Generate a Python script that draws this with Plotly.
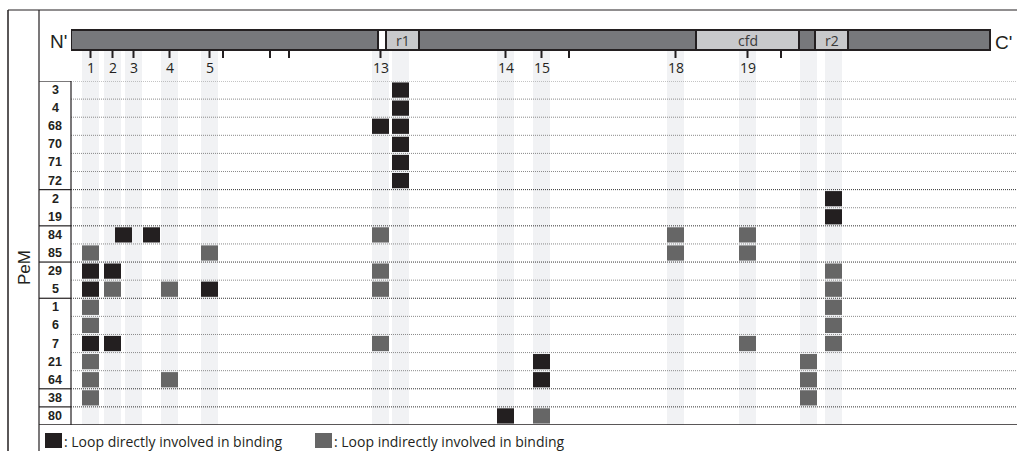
import plotly.graph_objects as go

W, H = 1017, 451

# PeM rows (top to bottom) and their grouping
rows = ["3", "4", "68", "70", "71", "72", "2", "19", "84", "85",
        "29", "5", "1", "6", "7", "21", "64", "38", "80"]
group_sizes = [6, 2, 2, 2, 5, 1, 1]

# Loop positions along the construct (x units from the N-terminus)
loop_names = ["1", "2", "3", "4", "5", "13", "r1", "14", "15", "18", "19", "L", "r2"]
loop_pos = [19.5, 41.5, 62.5, 98.5, 138.5, 309.5, 329.5, 434.5, 470.5, 604.5, 676.5, 737.5, 762.5]
loop_tick_text = ["1", "2", "3", "4", "5", "13", "", "14", "15", "18", "19", "", ""]
minor_tick_pos = [152, 199, 218, 498, 710]
between_pos = {"2-3": 52.5, "3-4": 80.5}

# Construct segments
seg_start = [307, 315, 625, 728, 744]
seg_end = [315, 348, 728, 744, 777]
seg_text = ["", "r1", "cfd", "", "r2"]
seg_fill = ["#ffffff", "#c8c9cb", "#c8c9cb", "#77787b", "#c8c9cb"]
construct_len = 919

# Loops directly involved in binding
direct_rows = ["3", "4", "68", "68", "70", "71", "72", "2", "19", "84", "84",
               "29", "29", "5", "5", "7", "7", "21", "64", "80"]
direct_loops = ["r1", "r1", "13", "r1", "r1", "r1", "r1", "r2", "r2", "2-3", "3-4",
                "1", "2", "1", "5", "1", "2", "15", "15", "14"]

# Loops indirectly involved in binding
indirect_rows = ["84", "84", "84", "85", "85", "85", "85", "29", "29",
                 "5", "5", "5", "5", "1", "1", "6", "6", "7", "7", "7",
                 "21", "21", "64", "64", "64", "38", "38", "80"]
indirect_loops = ["13", "18", "19", "1", "5", "18", "19", "13", "r2",
                  "2", "4", "13", "r2", "1", "r2", "1", "r2", "13", "19", "r2",
                  "1", "L", "1", "4", "L", "1", "L", "15"]

pos_of = dict(zip(loop_names, loop_pos))
pos_of.update(between_pos)

INK = "#231f20"
DIRECT = "#231f20"
INDIRECT = "#666666"
BAND = "#f1f2f4"
BODY = "#77787b"
CELL_W = 17
FONT = "Liberation Sans, Arial, sans-serif"
HFONT = "Open Sans, Noto Sans, sans-serif"


def px(x):
    return x / W


def py(y):
    return 1 - y / H


GRID_TOP, GRID_BOT = 81, 425
BAR_TOP, BAR_BOT = 30, 50

fig = go.Figure()


def cell_trace(row_list, loop_list, color):
    ys = [rows.index(r) for r in row_list]
    centers = [pos_of[l] for l in loop_list]
    return go.Bar(
        y=ys,
        x=[CELL_W] * len(ys),
        base=[c - CELL_W / 2 for c in centers],
        orientation="h",
        width=0.84,
        marker=dict(color=color, line=dict(width=0)),
        hoverinfo="skip",
        showlegend=False,
    )


fig.add_trace(cell_trace(direct_rows, direct_loops, DIRECT))
fig.add_trace(cell_trace(indirect_rows, indirect_loops, INDIRECT))

shapes = []
annotations = []

# light vertical bands under each loop
for p in loop_pos:
    shapes.append(dict(type="rect", xref="x", yref="paper",
                       x0=p - CELL_W / 2, x1=p + CELL_W / 2,
                       y0=py(GRID_BOT), y1=py(BAR_BOT),
                       fillcolor=BAND, line=dict(width=0), layer="below"))

# row separators
boundaries = set()
acc = 0
for g in group_sizes:
    acc += g
    boundaries.add(acc)
for k in range(0, len(rows)):
    yb = k - 0.5
    dark = k in boundaries
    shapes.append(dict(type="line", xref="paper", yref="y",
                       x0=px(71), x1=1, y0=yb, y1=yb,
                       line=dict(color="#333333" if dark else "#8a8a8a",
                                 width=1, dash="1px,1px"),
                       layer="below"))
# solid separators in the label column
for k in [0] + sorted(boundaries):
    yb = k - 0.5
    x1 = 1 if k == len(rows) else px(71)
    shapes.append(dict(type="line", xref="paper", yref="y",
                       x0=px(39), x1=x1, y0=yb, y1=yb,
                       line=dict(color=INK, width=1.5 if k == len(rows) else 1.2)))

# frame lines
shapes += [
    dict(type="line", xref="paper", yref="paper", x0=px(8), x1=1,
         y0=py(10), y1=py(10), line=dict(color=INK, width=1)),
    dict(type="line", xref="paper", yref="paper", x0=px(8), x1=px(8),
         y0=py(10), y1=0, line=dict(color=INK, width=1.5)),
    dict(type="line", xref="paper", yref="paper", x0=px(39), x1=px(39),
         y0=py(10), y1=0, line=dict(color=INK, width=1.2)),
    dict(type="line", xref="paper", yref="paper", x0=px(71), x1=px(71),
         y0=py(GRID_TOP), y1=py(GRID_BOT), line=dict(color=INK, width=1.2)),
]

# construct bar
shapes.append(dict(type="rect", xref="x", yref="paper", x0=0, x1=construct_len,
                   y0=py(BAR_BOT), y1=py(BAR_TOP), fillcolor=BODY,
                   line=dict(color=INK, width=2)))
for s, e, t, f in zip(seg_start, seg_end, seg_text, seg_fill):
    shapes.append(dict(type="rect", xref="x", yref="paper", x0=s, x1=e,
                       y0=py(BAR_BOT), y1=py(BAR_TOP), fillcolor=f,
                       line=dict(color=INK, width=2)))
    if t:
        annotations.append(dict(x=(s + e) / 2, y=py(40), xref="x", yref="paper",
                                text=t, showarrow=False,
                                font=dict(family=HFONT, size=14, color="#3a3a3a"),
                                xanchor="center", yanchor="middle"))

# loop tick marks and numbers
for p, t in zip(loop_pos, loop_tick_text):
    if not t:
        continue
    shapes.append(dict(type="line", xref="x", yref="paper", x0=p, x1=p,
                       y0=py(BAR_BOT), y1=py(58), line=dict(color=INK, width=2)))
    annotations.append(dict(x=p, y=py(68), xref="x", yref="paper", text=t,
                            showarrow=False,
                            font=dict(family=HFONT, size=14, color=INK),
                            xanchor="center", yanchor="middle"))
for p in minor_tick_pos:
    shapes.append(dict(type="line", xref="x", yref="paper", x0=p, x1=p,
                       y0=py(BAR_BOT), y1=py(58), line=dict(color=INK, width=2)))

# terminal labels
annotations.append(dict(x=px(58), y=py(41), xref="paper", yref="paper", text="N'",
                        showarrow=False, font=dict(family=FONT, size=19, color=INK),
                        xanchor="center", yanchor="middle"))
annotations.append(dict(x=px(1003), y=py(42), xref="paper", yref="paper", text="C'",
                        showarrow=False, font=dict(family=FONT, size=19, color=INK),
                        xanchor="center", yanchor="middle"))

# row labels
for i, r in enumerate(rows):
    annotations.append(dict(x=px(55), y=i, xref="paper", yref="y", text=f"<b>{r}</b>",
                            showarrow=False,
                            font=dict(family=FONT, size=12.5, color=INK),
                            xanchor="center", yanchor="middle"))

annotations.append(dict(x=px(24), y=py(268), xref="paper", yref="paper", text="PeM",
                        textangle=-90, showarrow=False,
                        font=dict(family=FONT, size=17, color=INK),
                        xanchor="center", yanchor="middle"))

# key
key_items = [(45, DIRECT, ": Loop directly involved in binding"),
             (315, INDIRECT, ": Loop indirectly involved in binding")]
for x0, col, txt in key_items:
    shapes.append(dict(type="rect", xref="paper", yref="paper",
                       x0=px(x0), x1=px(x0 + 17), y0=py(448), y1=py(433),
                       fillcolor=col, line=dict(width=0)))
    annotations.append(dict(x=px(x0 + 17), y=py(441), xref="paper", yref="paper",
                            text=txt, showarrow=False,
                            font=dict(family=HFONT, size=14, color=INK),
                            xanchor="left", yanchor="middle"))

fig.update_layout(
    width=W, height=H,
    margin=dict(l=0, r=0, t=0, b=0),
    paper_bgcolor="white", plot_bgcolor="white",
    barmode="overlay",
    xaxis=dict(range=[0, W - 71], domain=[px(71), 1], visible=False, fixedrange=True),
    yaxis=dict(range=[len(rows) - 0.5, -0.5], domain=[py(GRID_BOT), py(GRID_TOP)],
               visible=False, fixedrange=True),
    shapes=shapes,
    annotations=annotations,
    showlegend=False,
)

fig.write_html("out.html")
